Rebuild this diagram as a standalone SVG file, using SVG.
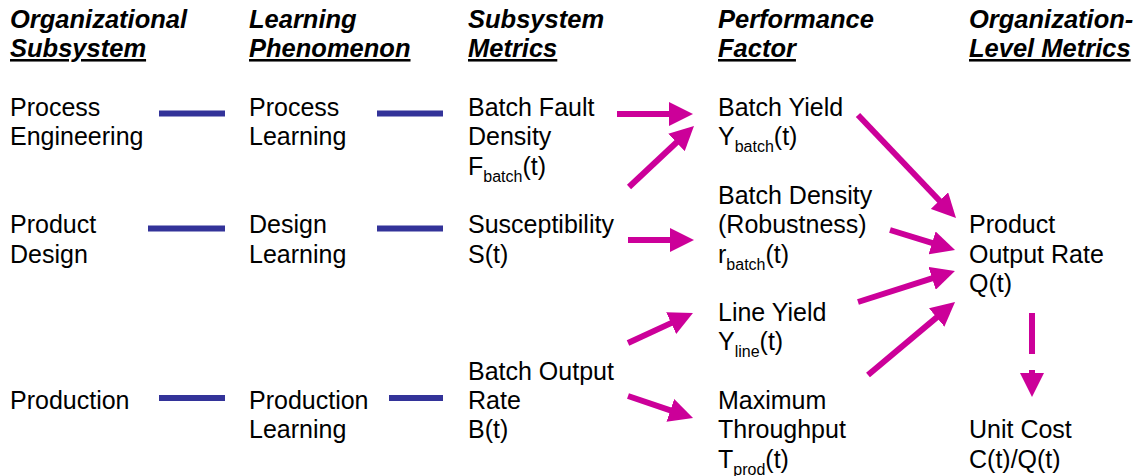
<svg xmlns="http://www.w3.org/2000/svg" width="1139" height="476" viewBox="0 0 1139 476">
<style>
text{font-family:"Liberation Sans",Arial,sans-serif;font-size:25px;fill:#000}
.h{font-weight:bold;font-style:italic;font-size:25.5px}
.u{text-decoration:underline}
.s{font-size:16px}
.blue{stroke:#333399;stroke-width:6;fill:none}
.mag{stroke:#CC0099;stroke-width:6;fill:none;marker-end:url(#ah)}
</style>
<defs>
<marker id="ah" markerUnits="userSpaceOnUse" markerWidth="24" markerHeight="24" refX="4" refY="12" orient="auto">
<path d="M0,0 L24,12 L0,24 Z" fill="#CC0099"/>
</marker>
</defs>
<g id="headers">
<text class="h" x="10" y="28">Organizational</text>
<text class="h u" x="10" y="57">Subsystem</text>
<text class="h" x="249" y="28">Learning</text>
<text class="h u" x="249" y="57">Phenomenon</text>
<text class="h" x="468" y="28">Subsystem</text>
<text class="h u" x="468" y="57">Metrics</text>
<text class="h" x="718" y="28">Performance</text>
<text class="h u" x="718" y="57">Factor</text>
<text class="h" x="969" y="28">Organization-</text>
<text class="h u" x="969" y="57">Level Metrics</text>
</g>
<g id="n-process-eng"><text x="10" y="116">Process</text><text x="10" y="145.3">Engineering</text></g>
<g id="n-product-design"><text x="10" y="233.2">Product</text><text x="10" y="262.5">Design</text></g>
<g id="n-production"><text x="10" y="409">Production</text></g>
<g id="n-process-learning"><text x="249" y="116">Process</text><text x="249" y="145.3">Learning</text></g>
<g id="n-design-learning"><text x="249" y="233.2">Design</text><text x="249" y="262.5">Learning</text></g>
<g id="n-production-learning"><text x="249" y="409">Production</text><text x="249" y="438.3">Learning</text></g>
<g id="n-fault-density"><text x="468" y="116">Batch Fault</text><text x="468" y="145.3">Density</text><text x="468" y="174.6">F<tspan class="s" dy="7">batch</tspan><tspan dy="-7">(t)</tspan></text></g>
<g id="n-suscept"><text x="468" y="233.2">Susceptibility</text><text x="468" y="262.5">S(t)</text></g>
<g id="n-batch-output"><text x="468" y="379.7">Batch Output</text><text x="468" y="409">Rate</text><text x="468" y="438.3">B(t)</text></g>
<g id="n-batch-yield"><text x="718" y="116">Batch Yield</text><text x="718" y="145.3">Y<tspan class="s" dy="7">batch</tspan><tspan dy="-7">(t)</tspan></text></g>
<g id="n-batch-density"><text x="718" y="203.9">Batch Density</text><text x="718" y="233.2">(Robustness)</text><text x="718" y="262.5">r<tspan class="s" dy="7">batch</tspan><tspan dy="-7">(t)</tspan></text></g>
<g id="n-line-yield"><text x="718" y="321.1">Line Yield</text><text x="718" y="350.4">Y<tspan class="s" dy="7">line</tspan><tspan dy="-7">(t)</tspan></text></g>
<g id="n-max-throughput"><text x="718" y="409">Maximum</text><text x="718" y="438.3">Throughput</text><text x="718" y="467.6">T<tspan class="s" dy="7">prod</tspan><tspan dy="-7">(t)</tspan></text></g>
<g id="n-output-rate"><text x="969" y="233.2">Product</text><text x="969" y="262.5">Output Rate</text><text x="969" y="291.8">Q(t)</text></g>
<g id="n-unit-cost"><text x="969" y="438.3">Unit Cost</text><text x="969" y="467.6">C(t)/Q(t)</text></g>
<g id="connectors">
<line class="blue" x1="159" y1="113.5" x2="225" y2="113.5"/>
<line class="blue" x1="377" y1="113.5" x2="443" y2="113.5"/>
<line class="blue" x1="148" y1="228.5" x2="225" y2="228.5"/>
<line class="blue" x1="377" y1="228.5" x2="443" y2="228.5"/>
<line class="blue" x1="159" y1="398" x2="225" y2="398"/>
<line class="blue" x1="389" y1="398" x2="443" y2="398"/>
<line class="mag" x1="617" y1="114" x2="673" y2="114"/>
<line class="mag" x1="629" y1="187" x2="679.4" y2="139.7"/>
<line class="mag" x1="628" y1="240" x2="674" y2="240"/>
<line class="mag" x1="628" y1="343" x2="674.8" y2="321.4"/>
<line class="mag" x1="628" y1="396" x2="674.1" y2="411.6"/>
<line class="mag" x1="858" y1="115" x2="942.2" y2="203.5"/>
<line class="mag" x1="890" y1="230" x2="935.9" y2="244.1"/>
<line class="mag" x1="858" y1="302" x2="935.9" y2="277.1"/>
<line class="mag" x1="868" y1="375" x2="939.7" y2="314.9"/>
<line class="mag" x1="1032" y1="313" x2="1032" y2="377" stroke-dasharray="41 16"/>
</g>
</svg>
